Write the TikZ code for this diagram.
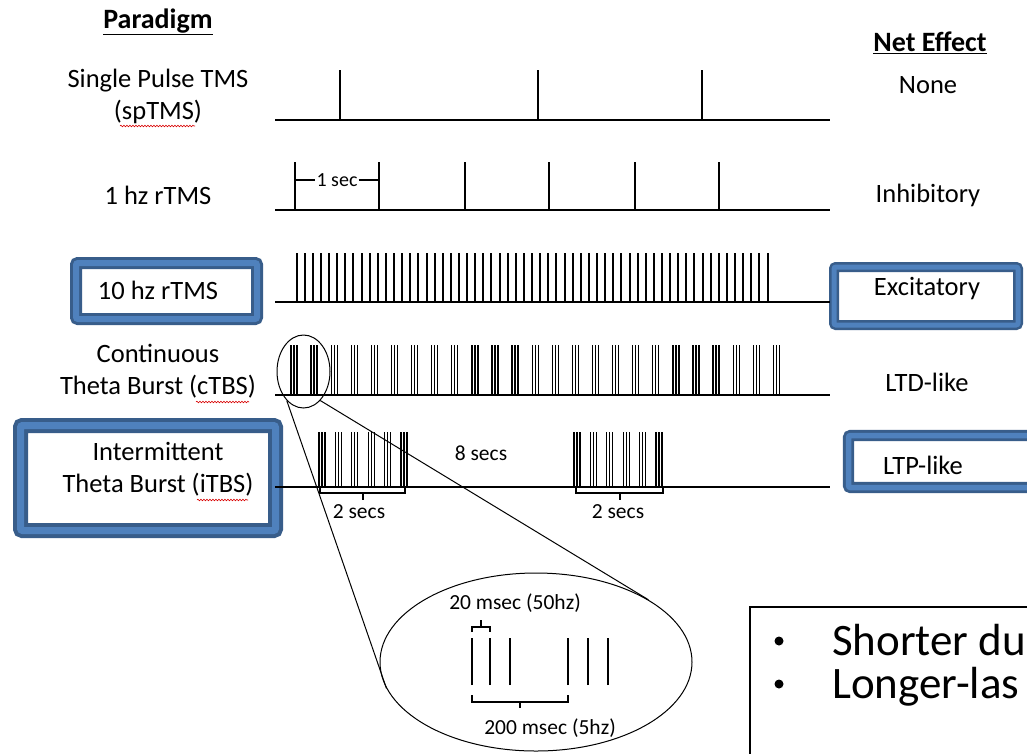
\documentclass[tikz,border=0pt]{standalone}
\usepackage{fontspec}
\setmainfont{Carlito}
\usepackage{xcolor}
\usetikzlibrary{shapes.geometric,decorations.pathmorphing}
\definecolor{frameDark}{HTML}{385D8A}
\definecolor{frameLight}{HTML}{4F81BD}

\begin{document}
\begin{tikzpicture}[
  x=1pt,y=-1pt,
  para/.style={align=center,font=\fontsize{26.5}{32}\selectfont,inner sep=0pt},
  head/.style={font=\fontsize{28}{32}\selectfont\bfseries,inner sep=0pt},
  small/.style={font=\fontsize{21.5}{24}\selectfont,inner sep=1pt},
  frame/.style={draw=frameDark,double=frameLight,rounded corners=2pt,fill=white},
  axis/.style={line width=2.6pt},
  pulse/.style={line width=2.6pt},
  tenhz/.style={line width=2pt},
  burst/.style={line width=1.3pt},
  thin/.style={line width=1pt},
  brace/.style={line width=2pt},
  squig/.style={red!85!black,line width=0.6pt,decorate,
    decoration={snake,amplitude=0.8pt,segment length=3pt}}
]
  \useasboundingbox (0,0) rectangle (1027,753);
  \clip (0,0) rectangle (1027,753);
  \fill[white] (0,0) rectangle (1027,753);

  % highlighted boxes
  \draw[frame,line width=3pt,double distance=6pt] (76,263) rectangle (257,319);
  \draw[frame,line width=4pt,double distance=7pt] (20.5,425.5) rectangle (275.5,530.5);
  \draw[frame,line width=2.5pt,double distance=5pt] (834,267) rectangle (1018,325);
  \draw[frame,line width=2.8pt,double distance=5.5pt] (848.5,435.5) rectangle (1045,487.5);

  % paradigm column
  \node[head] (paradigm) at (158,22) {\underline{Paradigm}};
  \node[para] (sp) at (158,96) {Single Pulse TMS\\(spTMS)};
  \node[para] (rtms1) at (158,195) {1 hz rTMS};
  \node[para] (rtms10) at (158,290) {10 hz rTMS};
  \node[para] (ctbs) at (158,371) {Continuous\\Theta Burst (cTBS)};
  \node[para] (itbs) at (158,469) {Intermittent\\Theta Burst (iTBS)};
  \draw[squig] (120,126) -- (195,126);
  \draw[squig] (196,402) -- (249,402);
  \draw[squig] (197,500) -- (248,500);

  % net effect column
  \node[head] (net) at (930,43) {\underline{Net Effect}};
  \node[para] (none) at (928,85) {None};
  \node[para] (inhib) at (928,195) {Inhibitory};
  \node[para] (excit) at (927,289) {Excitatory};
  \node[para] (ltd) at (927,382) {LTD-like};
  \node[para] (ltp) at (923,465) {LTP-like};

  % base lines
  \foreach \y in {120,210,302,395,487}
    \draw[axis] (275,\y) -- (830,\y);

  % spTMS
  \foreach \x in {340,538,702}
    \draw[pulse] (\x,120) -- (\x,70);

  % 1 hz
  \foreach \x in {295,379,465,549,635,719}
    \draw[pulse] (\x,210) -- (\x,162);
  \node[small,fill=white,font=\fontsize{20}{22}\selectfont] (onesec) at (337,180) {1 sec};
  \draw[brace] (295,180) -- (onesec);
  \draw[brace] (onesec) -- (379,180);

  % 10 hz
  \foreach \i in {0,...,58}
    \draw[tenhz] ({296.6+\i*8.12},302) -- ++(0,-49);

  % cTBS
  \foreach \i in {0,...,24}
    \foreach \d in {-3,0,3}
      \draw[burst] ({294+\i*20.1+\d},395) -- ++(0,-50);

  % iTBS
  \foreach \s in {322,577}
    \foreach \i in {0,...,5}
      \foreach \d in {-3,0,3}
        \draw[burst] ({\s+\i*16.4+\d},487) -- ++(0,-55);
  \draw[brace] (320,487) -- (320,493) -- (405,493) -- (405,487);
  \draw[brace] (362.5,493) -- (362.5,500);
  \draw[brace] (576,487) -- (576,493) -- (663,493) -- (663,487);
  \draw[brace] (619.5,493) -- (619.5,500);
  \node[small] (twosecA) at (359,512) {2 secs};
  \node[small] (twosecB) at (618,512) {2 secs};
  \node[small] (eightsec) at (481,453) {8 secs};

  % zoom
  \node[draw,thin,ellipse,inner sep=0pt,minimum width=53,minimum height=73] (zoomsmall) at (303.5,371.5) {};
  \node[draw,thin,ellipse,inner sep=0pt,minimum width=312,minimum height=178] (zoombig) at (536,662) {};
  \draw[thin] (zoomsmall.240) -- (zoombig.190);
  \draw[thin] (zoomsmall.300) -- (zoombig.29);
  \foreach \x in {472,490,510,568,588,608}
    \draw[pulse] (\x,685) -- (\x,638);
  \draw[brace] (472,632) -- (472,627) -- (490,627) -- (490,632);
  \draw[brace] (481,627) -- (481,620);
  \draw[brace] (472,695) -- (472,702) -- (568,702) -- (568,695);
  \draw[brace] (520,702) -- (520,708);
  \node[small] (msec20) at (515,603) {20 msec (50hz)};
  \node[small] (msec200) at (550,728) {200 msec (5hz)};

  % note box
  \draw[line width=1.2pt] (750,607) rectangle (1060,800);
  \node[anchor=base west,font=\fontsize{45}{48}\selectfont,inner sep=0pt] (noteA) at (832,655) {Shorter du};
  \node[anchor=base west,font=\fontsize{45}{48}\selectfont,inner sep=0pt] (noteB) at (832,698) {Longer-las};
  \fill (779,641) circle (4.5);
  \fill (779,684) circle (4.5);
\end{tikzpicture}
\end{document}
